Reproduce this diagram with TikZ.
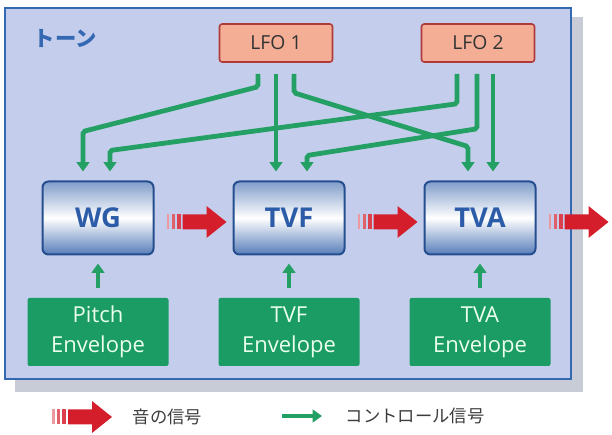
\documentclass[tikz,border=0pt]{standalone}
\usepackage{fontspec}
\setmainfont{Open Sans}
\newfontfamily\jpfont{Noto Sans CJK JP}
\usepackage{xcolor}
\usetikzlibrary{arrows.meta,calc,positioning}
\definecolor{tonefill}{RGB}{196,206,236}
\definecolor{toneline}{RGB}{52,104,178}
\definecolor{shadowgray}{RGB}{200,204,214}
\definecolor{boxblue}{RGB}{44,92,168}
\definecolor{lfofill}{RGB}{244,174,150}
\definecolor{lfoline}{RGB}{176,58,58}
\definecolor{envgreen}{RGB}{26,156,100}
\definecolor{ctrlgreen}{RGB}{36,160,100}
\definecolor{sigred}{RGB}{212,30,44}
\definecolor{legendtext}{RGB}{60,60,60}

\tikzset{
  sigarrow/.pic={
    \fill[sigred!45] (-30,-7.5) rectangle (-27.5,7.5);
    \fill[sigred!70] (-25,-7.5) rectangle (-22,7.5);
    \fill[sigred!85] (-20,-7.5) rectangle (-16,7.5);
    \fill[sigred] (-14,-7.5) -- (10,-7.5) -- (10,-16) -- (30,0) -- (10,16) -- (10,7.5) -- (-14,7.5) -- cycle;
  }
}

\begin{document}
\begin{tikzpicture}[x=0.75pt, y=-0.75pt]
    \tikzstyle{unitbox} = [draw=boxblue!85!black, line width=1.5pt, rounded corners=4.5pt, top color=boxblue!60, bottom color=boxblue!80, middle color=white, minimum width=83.25pt, minimum height=54.75pt, font=\fontsize{20.5}{22}\selectfont\bfseries, text=boxblue]
    \tikzstyle{lfobox} = [draw=lfoline, fill=lfofill, line width=1.2pt, rounded corners=2pt, minimum width=84.75pt, minimum height=28.5pt, font=\fontsize{14.5}{16}\selectfont, text=black!80]
    \tikzstyle{envbox} = [fill=envgreen, rounded corners=1.5pt, minimum width=105.75pt, minimum height=51pt, align=center, font=\fontsize{16.5}{22.5}\selectfont, text=white!92!green]
    \tikzstyle{ctrl} = [ctrlgreen, line width=3.6pt, -{Triangle[width=9.5pt,length=7pt]}, rounded corners=1.5pt]
    \tikzstyle{legend} = [anchor=west, text=legendtext, font=\fontsize{13}{15}\selectfont\jpfont]

    \useasboundingbox (0,0) rectangle (612,435);

    % tone frame
    \fill[shadowgray] (15,17) rectangle (583,392);
    \draw[toneline, fill=tonefill, line width=2.2pt] (5,8) rectangle (571,379);
    \node[anchor=west, text=toneline, font=\fontsize{16}{18}\selectfont\jpfont\bfseries] (tonelabel) at (29,39) {トーン};

    \node[lfobox] (lfoA) at (276,43) {LFO 1};
    \node[lfobox] (lfoB) at (478,43) {LFO 2};

    \node[unitbox] (wg) at (98,218) {WG};
    \node[unitbox] (tvf) at (289,218) {TVF};
    \node[unitbox] (tva) at (480,218) {TVA};

    \node[envbox] (envP) at (98,332) {Pitch\\Envelope};
    \node[envbox] (envF) at (289,332) {TVF\\Envelope};
    \node[envbox] (envA) at (480,332) {TVA\\Envelope};

    % audio path
    \pic at ($(wg.east)!0.5!(tvf.west)+(3,4)$) {sigarrow};
    \pic at ($(tvf.east)!0.5!(tva.west)+(3,4)$) {sigarrow};
    \pic at ($(tva.east)+(42,4)$) {sigarrow};

    % LFO control
    \draw[ctrl] ($(lfoA.south)+(-18,11)$) -- ++(0,13) -- ($(wg.north)+(-15,-49)$) -- ($(wg.north)+(-15,-9)$);
    \draw[ctrl] ($(lfoA.south)+(0,11)$) -- ($(tvf.north)+(-13,-9)$);
    \draw[ctrl] ($(lfoA.south)+(18,11)$) -- ++(0,19) -- ($(tva.north)+(-12,-34)$) -- ($(tva.north)+(-12,-9)$);
    \draw[ctrl] ($(lfoB.south)+(-21,11)$) -- ++(0,30) -- ($(wg.north)+(12,-30)$) -- ($(wg.north)+(12,-9)$);
    \draw[ctrl] ($(lfoB.south)+(-1,11)$) -- ++(0,55) -- ($(tvf.north)+(18,-25)$) -- ($(tvf.north)+(18,-9)$);
    \draw[ctrl] ($(lfoB.south)+(15,11)$) -- ($(tva.north)+(13,-9)$);

    % envelopes
    \draw[ctrl, line width=3pt] ($(envP.north)+(0,-10)$) -- ($(wg.south)+(0,8)$);
    \draw[ctrl, line width=3pt] ($(envF.north)+(0,-10)$) -- ($(tvf.south)+(0,8)$);
    \draw[ctrl, line width=3pt] ($(envA.north)+(0,-10)$) -- ($(tva.south)+(0,8)$);

    % legend
    \pic at (82,417) {sigarrow};
    \node[legend] (lgSig) at (128,417) {音の信号};
    \coordinate (lgA) at (282,416);
    \coordinate (lgB) at (322,416);
    \draw[ctrl, line width=3pt] (lgA) -- (lgB);
    \node[legend] (lgCtrl) at (341,416) {コントロール信号};
\end{tikzpicture}
\end{document}
